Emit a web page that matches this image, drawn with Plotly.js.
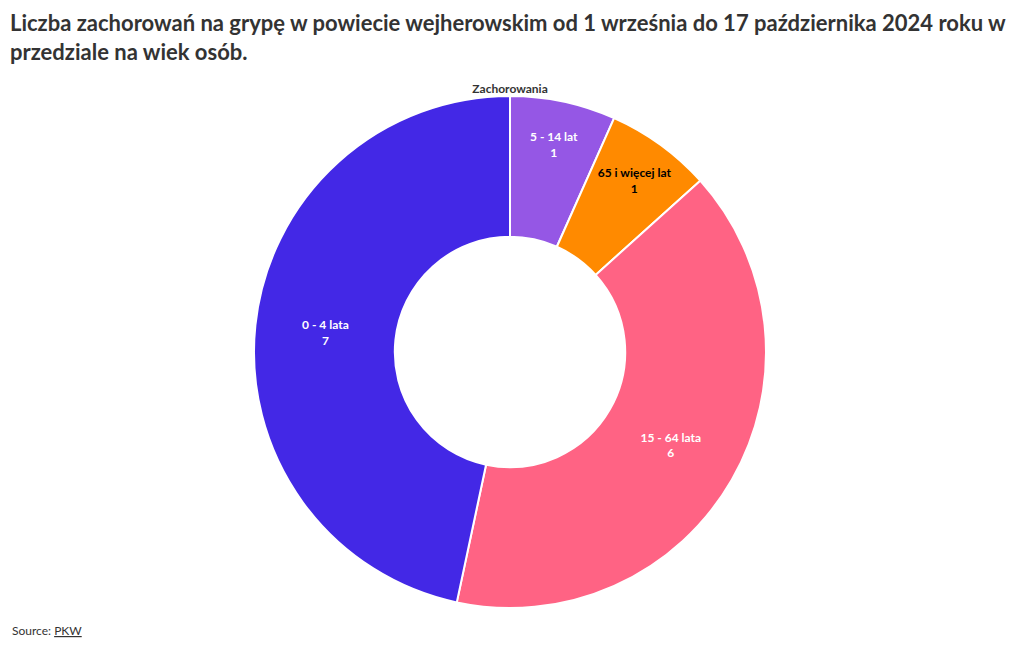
<!DOCTYPE html>
<html>
<head>
<meta charset="utf-8">
<script src="https://cdn.plot.ly/plotly-3.0.1.min.js"></script>
<style>body{margin:0;background:#fff;}#chart{width:1020px;height:650px;}</style>
</head>
<body>
<div id="chart"></div>
<script>
const labels = ['5 - 14 lat', '65 i więcej lat', '15 - 64 lata', '0 - 4 lata'];
const values = [1, 1, 6, 7];
const colors = ['#9557E5', '#FF8A00', '#FF6384', '#4328E6'];
const textColors = ['#ffffff', '#000000', '#ffffff', '#ffffff'];
const seriesName = 'Zachorowania';
const titleText = 'Liczba zachorowań na grypę w powiecie wejherowskim od 1 września do 17 października 2024 roku w<br>przedziale na wiek osób.';

const FONT = 'Lato, "Open Sans", sans-serif';

const data = [{
  type: 'pie',
  labels: labels,
  values: values,
  name: seriesName,
  hole: 0.45,
  sort: false,
  direction: 'clockwise',
  rotation: 0,
  marker: {colors: colors, line: {color: '#ffffff', width: 2}},
  textinfo: 'label+value',
  textposition: 'inside',
  insidetextorientation: 'horizontal',
  insidetextfont: {family: FONT, size: 12, color: textColors, weight: 'bold'},
  title: {text: '<b>' + seriesName + '</b>', position: 'top center', font: {family: FONT, size: 12, color: '#333333'}},
  showlegend: false
}];

const layout = {
  width: 1020,
  height: 650,
  paper_bgcolor: '#ffffff',
  font: {family: FONT, color: '#333333'},
  margin: {l: 10, r: 10, t: 81, b: 42},
  title: {
    text: '<b>' + titleText + '</b>',
    x: 0, xanchor: 'left', xref: 'paper',
    y: 0.952, yanchor: 'top', yref: 'container',
    font: {family: FONT, size: 22, color: '#333333'}
  },
  annotations: [{
    text: 'Source: <a href="#" style="color:#333333"><u>PKW</u></a>',
    showarrow: false,
    xref: 'paper', yref: 'paper',
    x: 0, xanchor: 'left',
    y: -0.025, yanchor: 'top',
    font: {family: FONT, size: 12, color: '#333333'}
  }]
};

Plotly.newPlot('chart', data, layout, {displayModeBar: false});
</script>
</body>
</html>
